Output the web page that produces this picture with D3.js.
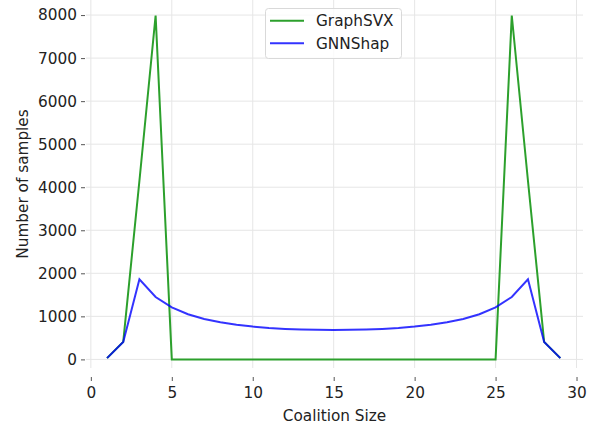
<!DOCTYPE html>
<html>
<head>
<meta charset="utf-8">
<script src="https://cdn.jsdelivr.net/npm/d3@7"></script>
<style>
  html, body { margin: 0; padding: 0; background: #fff; }
  svg { display: block; }
  text { font-family: "DejaVu Sans", sans-serif; }
</style>
</head>
<body>
<script>
const coalitionSizes = [1,2,3,4,5,6,7,8,9,10,11,12,13,14,15,16,17,18,19,20,21,22,23,24,25,26,27,28,29];
const graphSVX = [29,406,4150,7990,0,0,0,0,0,0,0,0,0,0,0,0,0,0,0,0,0,0,0,0,0,7990,4150,406,29];
const gnnShap = [29,406,1860,1450,1210,1050,940,862,805,762,730,708,694,686,684,686,694,708,730,762,805,862,940,1050,1210,1450,1860,406,29];
const seriesNames = ["GraphSVX", "GNNShap"];
const xTicks = [0,5,10,15,20,25,30];
const yTicks = [0,1000,2000,3000,4000,5000,6000,7000,8000];

const W = 599, H = 425;
const mLeft = 86, mRight = 583, mTop = 0, mBottom = 368;

const svg = d3.select("body").append("svg").attr("width", W).attr("height", H);

const x = d3.scaleLinear().domain([-0.3, 30.4]).range([mLeft, mRight]);
const y = d3.scaleLinear().domain([-200, 8350]).range([mBottom, mTop]);

// grid
const grid = svg.append("g");
grid.selectAll("line.v").data(xTicks).join("line")
  .attr("x1", d => x(d)).attr("x2", d => x(d))
  .attr("y1", mTop).attr("y2", mBottom)
  .attr("stroke", "#e6e6e6").attr("stroke-width", 1);
grid.selectAll("line.h").data(yTicks).join("line")
  .attr("x1", mLeft).attr("x2", mRight)
  .attr("y1", d => y(d)).attr("y2", d => y(d))
  .attr("stroke", "#e6e6e6").attr("stroke-width", 1);

// axes
const xAxis = d3.axisBottom(x).tickValues(xTicks).tickFormat(d3.format("d")).tickSize(4).tickPadding(6);
const gx = svg.append("g").attr("transform", `translate(0,377)`).call(xAxis);
gx.select(".domain").remove();
gx.selectAll(".tick line").attr("stroke", "#555").attr("stroke-width", 1);
gx.selectAll(".tick text").attr("font-size", 15.3).attr("fill", "#222").attr("font-family", "DejaVu Sans");

const yAxis = d3.axisLeft(y).tickValues(yTicks).tickFormat(d3.format("d")).tickSize(4).tickPadding(4);
const gy = svg.append("g").attr("transform", `translate(${mLeft - 1},0)`).call(yAxis);
gy.select(".domain").remove();
gy.selectAll(".tick line").attr("stroke", "#555").attr("stroke-width", 1);
gy.selectAll(".tick text").attr("font-size", 15.3).attr("fill", "#222").attr("font-family", "DejaVu Sans");

// labels
svg.append("text").attr("x", (mLeft + mRight) / 2).attr("y", 421)
  .attr("text-anchor", "middle").attr("font-size", 15.3).attr("fill", "#222")
  .text("Coalition Size");
svg.append("text").attr("transform", `translate(28,${(mTop + mBottom) / 2}) rotate(-90)`)
  .attr("text-anchor", "middle").attr("font-size", 15.3).attr("fill", "#222")
  .text("Number of samples");

// lines
const line = d3.line().x((d, i) => x(coalitionSizes[i])).y(d => y(d));
svg.append("path").datum(graphSVX).attr("d", line)
  .attr("fill", "none").attr("stroke", "#2ca02c").attr("stroke-width", 2).attr("stroke-linejoin", "miter");
svg.append("path").datum(gnnShap).attr("d", line)
  .attr("fill", "none").attr("stroke", "blue").attr("stroke-opacity", 0.8).attr("stroke-width", 2);

// legend
const lg = svg.append("g");
lg.append("rect").attr("x", 265.5).attr("y", 8.5).attr("width", 136).attr("height", 50)
  .attr("rx", 3).attr("fill", "white").attr("fill-opacity", 0.8)
  .attr("stroke", "#d9d9d9").attr("stroke-width", 1);
const legColors = [{c: "#2ca02c", o: 1}, {c: "blue", o: 0.8}];
seriesNames.forEach((name, i) => {
  const yy = 20.7 + i * 22.6;
  lg.append("line").attr("x1", 270).attr("x2", 304).attr("y1", yy).attr("y2", yy)
    .attr("stroke", legColors[i].c).attr("stroke-opacity", legColors[i].o).attr("stroke-width", 2);
  lg.append("text").attr("x", 316).attr("y", yy + 5.5).attr("font-size", 15.3).attr("fill", "#222").text(name);
});
</script>
</body>
</html>
